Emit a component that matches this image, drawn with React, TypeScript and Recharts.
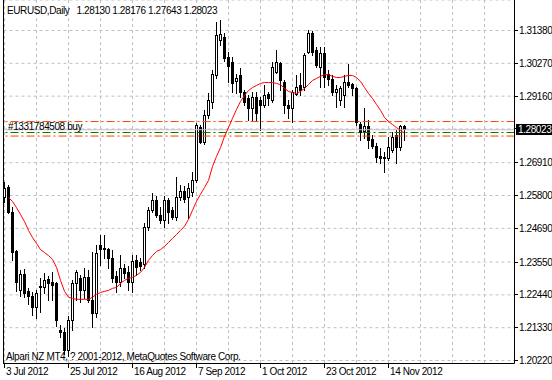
import { ComposedChart, Bar, Line, XAxis, YAxis, CartesianGrid, ReferenceLine } from 'recharts'

// EURUSD daily, 3 Jul 2012 .. 20 Nov 2012 (one entry per trading day)
const opens = [
  1.2573, 1.2607, 1.2523, 1.2391, 1.2259, 1.2313, 1.2256, 1.2239, 1.2201, 1.2273,
  1.2269, 1.2296, 1.2286, 1.2283, 1.2124, 1.2117, 1.2056, 1.2158, 1.2283, 1.2300,
  1.2259, 1.2303, 1.2225, 1.2182, 1.2411, 1.2401, 1.2397, 1.2367, 1.2307, 1.2286,
  1.2334, 1.2320, 1.2286, 1.2361, 1.2354, 1.2347, 1.2472, 1.2530, 1.2563, 1.2513,
  1.2496, 1.2563, 1.2530, 1.2506, 1.2573, 1.2594, 1.2573, 1.2590, 1.2631, 1.2810,
  1.2759, 1.2851, 1.2894, 1.2986, 1.3104, 1.3114, 1.3046, 1.3030, 1.2966, 1.2986,
  1.2928, 1.2908, 1.2874, 1.2911, 1.2901, 1.2884, 1.2921, 1.2901, 1.2996, 1.3027,
  1.2962, 1.2884, 1.2874, 1.2921, 1.2952, 1.2945, 1.3063, 1.3128, 1.3070, 1.3013,
  1.3060, 1.2989, 1.2972, 1.2928, 1.2901, 1.2918, 1.2962, 1.2955, 1.2942, 1.2820,
  1.2797, 1.2813, 1.2769, 1.2746, 1.2712, 1.2709, 1.2705, 1.2732, 1.2783, 1.2742,
  1.2813,
]
const highs = [
  1.2624, 1.2614, 1.2539, 1.2394, 1.2327, 1.2331, 1.2266, 1.2252, 1.2259, 1.2300,
  1.2317, 1.2307, 1.2320, 1.2286, 1.2141, 1.2131, 1.2172, 1.2293, 1.2327, 1.2310,
  1.2334, 1.2327, 1.2387, 1.2411, 1.2445, 1.2445, 1.2401, 1.2394, 1.2324, 1.2377,
  1.2347, 1.2341, 1.2377, 1.2377, 1.2367, 1.2486, 1.2539, 1.2587, 1.2577, 1.2539,
  1.2577, 1.2570, 1.2539, 1.2641, 1.2614, 1.2611, 1.2621, 1.2658, 1.2824, 1.2817,
  1.2868, 1.2925, 1.3003, 1.3165, 1.3172, 1.3128, 1.3063, 1.3046, 1.2989, 1.3010,
  1.2935, 1.2918, 1.2928, 1.2928, 1.2911, 1.2952, 1.2928, 1.3030, 1.3070, 1.3030,
  1.2969, 1.2901, 1.2935, 1.2986, 1.2993, 1.3060, 1.3138, 1.3135, 1.3080, 1.3080,
  1.3080, 1.3003, 1.2986, 1.2952, 1.2949, 1.2986, 1.3023, 1.2959, 1.2945, 1.2827,
  1.2874, 1.2834, 1.2783, 1.2756, 1.2739, 1.2725, 1.2776, 1.2793, 1.2800, 1.2817,
  1.28176,
]
const lows = [
  1.2556, 1.2520, 1.2361, 1.2256, 1.2239, 1.2236, 1.2211, 1.2175, 1.2165, 1.2185,
  1.2249, 1.2225, 1.2225, 1.2138, 1.2100, 1.2042, 1.2036, 1.2124, 1.2225, 1.2218,
  1.2232, 1.2218, 1.2134, 1.2168, 1.2344, 1.2367, 1.2334, 1.2286, 1.2252, 1.2273,
  1.2300, 1.2259, 1.2252, 1.2310, 1.2327, 1.2334, 1.2462, 1.2523, 1.2506, 1.2486,
  1.2472, 1.2486, 1.2499, 1.2496, 1.2563, 1.2556, 1.2503, 1.2577, 1.2624, 1.2756,
  1.2752, 1.2841, 1.2874, 1.2976, 1.3087, 1.3033, 1.2962, 1.2928, 1.2925, 1.2911,
  1.2884, 1.2834, 1.2834, 1.2834, 1.2800, 1.2878, 1.2884, 1.2894, 1.2993, 1.2935,
  1.2857, 1.2841, 1.2827, 1.2918, 1.2918, 1.2935, 1.3060, 1.3053, 1.3013, 1.2945,
  1.2945, 1.2952, 1.2918, 1.2878, 1.2884, 1.2878, 1.2945, 1.2918, 1.2817, 1.2766,
  1.2773, 1.2739, 1.2739, 1.2692, 1.2689, 1.2658, 1.2699, 1.2725, 1.2689, 1.2732,
  1.27643,
]
const closes = [
  1.2604, 1.2523, 1.2387, 1.2286, 1.2313, 1.2249, 1.2239, 1.2201, 1.2249, 1.2269,
  1.2293, 1.2283, 1.2276, 1.2158, 1.2117, 1.2056, 1.2158, 1.2283, 1.2320, 1.2259,
  1.2303, 1.2225, 1.2182, 1.2384, 1.2397, 1.2397, 1.2367, 1.2300, 1.2286, 1.2334,
  1.2317, 1.2286, 1.2357, 1.2337, 1.2341, 1.2472, 1.2530, 1.2563, 1.2513, 1.2496,
  1.2563, 1.2523, 1.2506, 1.2573, 1.2594, 1.2567, 1.2604, 1.2631, 1.2817, 1.2759,
  1.2851, 1.2901, 1.2989, 1.3121, 1.3124, 1.3043, 1.3016, 1.2959, 1.2976, 1.2928,
  1.2894, 1.2874, 1.2911, 1.2857, 1.2884, 1.2918, 1.2908, 1.3013, 1.3030, 1.2969,
  1.2884, 1.2874, 1.2928, 1.2945, 1.2935, 1.3053, 1.3128, 1.3063, 1.3020, 1.3060,
  1.2979, 1.2972, 1.2928, 1.2938, 1.2942, 1.2962, 1.2952, 1.2942, 1.2827, 1.2793,
  1.2813, 1.2766, 1.2746, 1.2709, 1.2705, 1.2705, 1.2742, 1.2776, 1.2742, 1.2813,
  1.28023,
]
// red moving average
const ma = [
  null, 1.2573, 1.2560, 1.2539, 1.2516, 1.2492, 1.2462, 1.2438, 1.2418, 1.2397,
  1.2387, 1.2377, 1.2364, 1.2337, 1.2293, 1.2256, 1.2236, 1.2232, 1.2229, 1.2229,
  1.2229, 1.2229, 1.2236, 1.2246, 1.2252, 1.2256, 1.2259, 1.2266, 1.2269, 1.2283,
  1.2293, 1.2300, 1.2303, 1.2310, 1.2320, 1.2337, 1.2361, 1.2377, 1.2391, 1.2397,
  1.2408, 1.2421, 1.2435, 1.2448, 1.2462, 1.2476, 1.2499, 1.2530, 1.2560, 1.2584,
  1.2607, 1.2631, 1.2678, 1.2712, 1.2742, 1.2780, 1.2810, 1.2841, 1.2871, 1.2898,
  1.2918, 1.2935, 1.2945, 1.2952, 1.2959, 1.2962, 1.2962, 1.2962, 1.2959, 1.2955,
  1.2942, 1.2932, 1.2928, 1.2925, 1.2932, 1.2942, 1.2955, 1.2969, 1.2976, 1.2983,
  1.2989, 1.2989, 1.2983, 1.2979, 1.2979, 1.2983, 1.2986, 1.2986, 1.2979, 1.2966,
  1.2945, 1.2925, 1.2908, 1.2888, 1.2868, 1.2844, 1.2830, 1.2820, 1.2810, 1.2800,
  1.2790,
]

const xGridTicks = [0, 8, 16, 24, 32, 40, 48, 56, 64, 72, 80, 88, 96, 104, 112, 120]
const xLabelIdx = [0, 16, 32, 48, 64, 80, 96]
const xLabels = ['3 Jul 2012', '25 Jul 2012', '16 Aug 2012', '7 Sep 2012', '1 Oct 2012', '23 Oct 2012', '14 Nov 2012']
const yTicks = [1.2022, 1.2133, 1.2244, 1.2355, 1.2469, 1.258, 1.2691, 1.2805, 1.2916, 1.3027, 1.3138]

// order #1331784508 levels and current bid
const takeProfit = 1.283
const openPrice = 1.2793
const stopLoss = 1.2781
const bid = 1.28023

const data = opens.map((o, i) => ({
  i,
  open: o,
  high: highs[i],
  low: lows[i],
  close: closes[i],
  ma: ma[i],
}))

const FONT = '"Liberation Sans", Arial, sans-serif'
const txt = { fontFamily: FONT, fontSize: 10, letterSpacing: -0.4, fill: '#000' }

function Candle(props: any) {
  const { x, y, width, height, payload } = props
  if (!payload || width == null) return null
  const top = Math.min(y, y + height)
  const bottom = Math.max(y, y + height)
  const { open, close, high, low } = payload
  const py = (v: number) => top + ((high - v) / (high - low)) * (bottom - top)
  const c = Math.floor(x + width / 2) + 0.5
  const yO = Math.floor(py(open))
  const yC = Math.floor(py(close))
  const up = close >= open
  const b0 = Math.min(yO, yC)
  const b1 = Math.max(yO, yC)
  return (
    <g>
      <line x1={c} x2={c} y1={Math.floor(top)} y2={Math.floor(bottom) + 1} stroke="#000" />
      {b1 - b0 < 1 ? (
        <line x1={c - 1.5} x2={c + 1.5} y1={b0 + 0.5} y2={b0 + 0.5} stroke="#000" />
      ) : (
        <rect x={c - 1} y={b0 + 0.5} width={2} height={b1 - b0} fill={up ? '#fff' : '#000'} stroke="#000" />
      )}
    </g>
  )
}

function XTick(props: any) {
  const { x, payload } = props
  const k = xLabelIdx.indexOf(payload.value)
  if (k < 0) return null
  const cx = Math.floor(x) + 0.5
  return (
    <g>
      <line x1={cx} x2={cx} y1={363.5} y2={368} stroke="#000" />
      <text x={cx + 1.5} y={375} style={txt}>{xLabels[k]}</text>
    </g>
  )
}

function YTick(props: any) {
  const { y, payload } = props
  const cy = Math.floor(y) + 0.5
  return (
    <g>
      <line x1={514.5} x2={518} y1={cy} y2={cy} stroke="#000" />
      <text x={519} y={cy} dy="0.36em" style={txt}>{payload.value.toFixed(5)}</text>
    </g>
  )
}

const dashDot = '8 3 2 3'

export default function App() {
  return (
    <div style={{ position: 'fixed', left: 0, top: 0, width: 552, height: 380, background: '#fff' }}>
      <ComposedChart width={552} height={380} data={data} margin={{ top: 0, right: 0, bottom: 0, left: 3.5 }}>
        <CartesianGrid stroke="#c0c0c0" strokeDasharray="3 3" />
        <XAxis
          dataKey="i"
          type="number"
          domain={[-0.25, 127.5]}
          ticks={xGridTicks}
          interval={0}
          tick={XTick}
          tickLine={false}
          axisLine={{ stroke: '#000' }}
          height={16.5}
          allowDataOverflow
        />
        <YAxis
          orientation="right"
          type="number"
          domain={[1.20119, 1.32411]}
          ticks={yTicks}
          interval={0}
          tick={YTick}
          tickLine={false}
          axisLine={{ stroke: '#000' }}
          width={37.5}
          allowDataOverflow
        />
        <ReferenceLine y={bid} stroke="#c0c0c0" />
        <ReferenceLine y={takeProfit} stroke="#ff4000" strokeDasharray={dashDot} />
        <ReferenceLine y={openPrice} stroke="#008000" strokeDasharray={dashDot} />
        <ReferenceLine y={stopLoss} stroke="#ff4000" strokeDasharray={dashDot} />
        <Bar dataKey={(d: any) => [d.low, d.high]} barSize={3} shape={Candle} isAnimationActive={false} />
        <Line dataKey="ma" type="linear" stroke="#ff0000" strokeWidth={1} dot={false} activeDot={false} isAnimationActive={false} />
      </ComposedChart>
      <svg width={552} height={380} style={{ position: 'absolute', left: 0, top: 0, pointerEvents: 'none' }}>
        <line x1={3.5} x2={3.5} y1={0} y2={364} stroke="#000" />
        <text x={7} y={14} style={txt}>{'EURUSD,Daily\u00a0\u00a0 1.28130 1.28176 1.27643 1.28023'}</text>
        <text x={8} y={130} style={txt}>#1331784508 buy</text>
        <text x={6} y={360} style={txt}>Alpari NZ MT4, ? 2001-2012, MetaQuotes Software Corp.</text>
        <rect x={516} y={124} width={36} height={11} fill="#000" />
        <text x={518} y={129.5} dy="0.36em" style={{ ...txt, fill: '#fff' }}>1.28023</text>
      </svg>
    </div>
  )
}
